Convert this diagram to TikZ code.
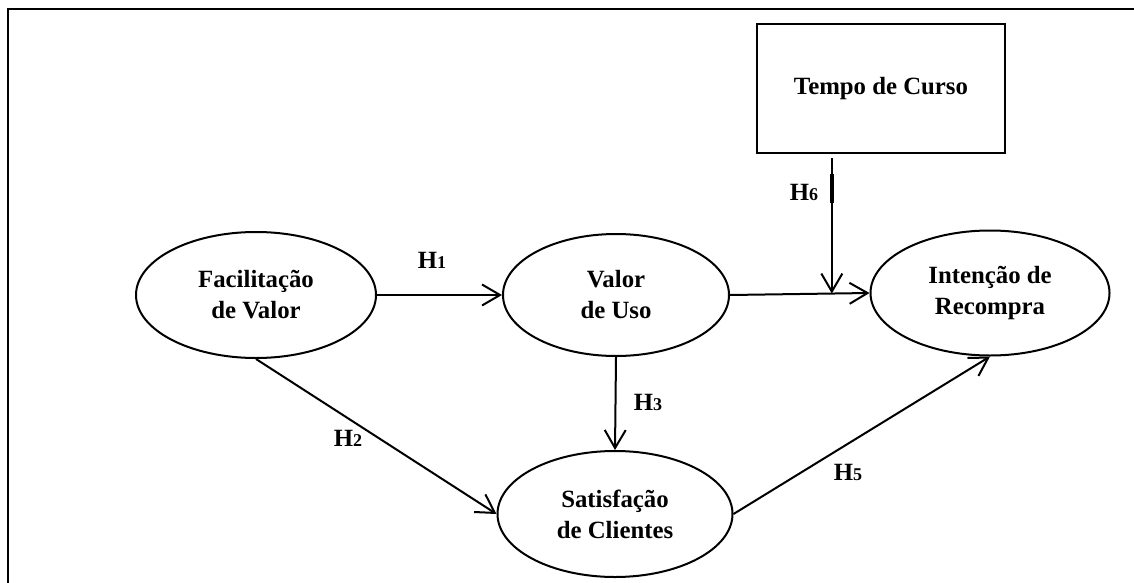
\documentclass[tikz,border=0pt]{standalone}
\usepackage{fontspec}
\setmainfont{Liberation Serif}
\usetikzlibrary{positioning,shapes.geometric,arrows.meta,calc}
\newcommand{\hyplabel}[1]{H{\fontsize{9}{10}\selectfont #1}}
\tikzset{
  construct/.style={ellipse, draw, line width=1pt, inner sep=0pt, align=center,
    font=\bfseries\fontsize{12.4}{15.5}\selectfont},
  control/.style={rectangle, draw, line width=1pt, inner sep=0pt,
    font=\bfseries\fontsize{12.4}{15.5}\selectfont},
  hpath/.style={line width=1pt, -{Straight Barb[length=9pt,width=10.5pt]}},
  hyp/.style={font=\bfseries\fontsize{12.4}{14}\selectfont, inner sep=1pt}
}

\begin{document}
\begin{tikzpicture}[x=0.5pt, y=-0.5pt]
    \useasboundingbox (0,0) rectangle (1134,583);
    % frame
    \draw[line width=1pt] (8,583) -- (8,9) -- (1134,9);
    % define constructs
    \node[construct, minimum width=120pt, minimum height=63pt] (fac) at (256,295) {Facilitação\\de Valor};
    \node[construct, minimum width=113pt, minimum height=61pt] (valor) at ($(fac)+(360,0)$) {Valor\\de Uso};
    \node[construct, minimum width=117.5pt, minimum height=63pt] (sat) at ($(valor)+(-1,219)$) {Satisfação\\de Clientes};
    \node[construct, minimum width=119.5pt, minimum height=62.5pt] (intencao) at ($(valor)+(374,-2)$) {Intenção de\\Recompra};
    \node[control, minimum width=124pt, minimum height=64.5pt] (tempo) at ($(intencao)+(-109,-204.5)$) {Tempo de Curso};
    % moderation point
    \coordinate (modpt) at ($(valor.east)!0.73!(intencao.west)$);
    \coordinate (modtop) at (tempo.south -| modpt);
    % draw paths
    \draw[hpath] (fac.east) -- (valor.west);
    \draw[hpath] (fac.south) -- (sat.west);
    \draw[hpath] (valor.south) -- (sat.north);
    \draw[hpath] (valor.east) -- (intencao.west);
    \draw[hpath] (sat.east) -- (intencao.south);
    \draw[hpath, shorten <=2pt] (modtop) -- (modpt);
    \draw[line width=2pt] ($(modtop)!0.14!(modpt)$) -- ($(modtop)!0.35!(modpt)$);
    % add labels
    \node[hyp] (h1) at (432,260) {\hyplabel{1}};
    \node[hyp] (h2) at (348,438) {\hyplabel{2}};
    \node[hyp] (h3) at (648,402) {\hyplabel{3}};
    \node[hyp] (h5) at (848,472) {\hyplabel{5}};
    \node[hyp] (h6) at (804,192) {\hyplabel{6}};
\end{tikzpicture}
\end{document}
